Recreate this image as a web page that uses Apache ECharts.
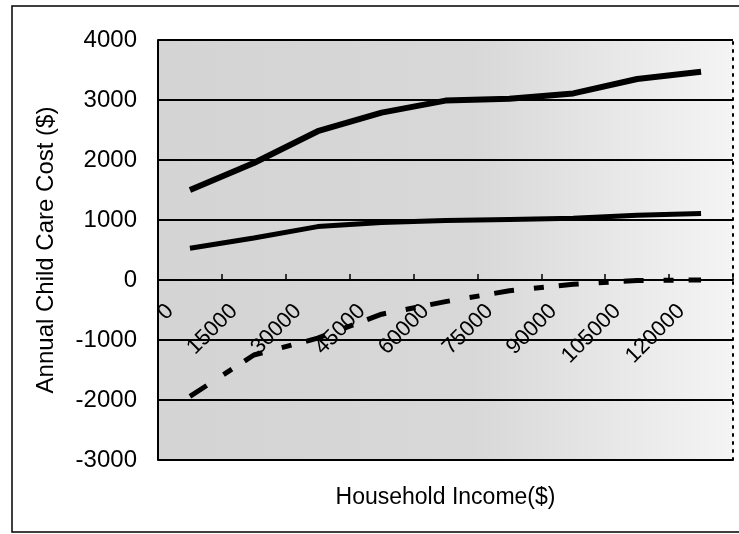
<!DOCTYPE html>
<html>
<head>
<meta charset="utf-8">
<script src="https://cdn.jsdelivr.net/npm/echarts@6/dist/echarts.min.js"></script>
<style>
html,body{margin:0;padding:0;background:#fff;}
#chart{width:739px;height:534px;}
</style>
</head>
<body>
<div id="chart"></div>
<script>
// Household income categories (x axis tick labels)
const categories = ['0','15000','30000','45000','60000','75000','90000','105000','120000'];
// Series values (annual child care cost, $)
const upperCost = [1500, 1950, 2480, 2790, 2990, 3020, 3110, 3350, 3470];
const lowerCost = [530, 700, 890, 960, 990, 1010, 1030, 1080, 1110];
const difference = [-1940, -1250, -970, -570, -360, -180, -70, -10, 0];
// y axis scale
const yMin = -3000, yMax = 4000, yStep = 1000;

const font = 'Liberation Sans, Arial, sans-serif';
const chart = echarts.init(document.getElementById('chart'), null, {renderer: 'canvas'});
chart.setOption({
  animation: false,
  backgroundColor: '#ffffff',
  graphic: [{
    type: 'rect', silent: true, z: -10,
    shape: {x: 12, y: 6, width: 740, height: 526},
    style: {fill: 'none', stroke: '#000', lineWidth: 1.5}
  }],
  grid: {
    left: 158, right: 6, top: 40, bottom: 74,
    containLabel: false,
    outerBoundsMode: 'none',
    show: true, borderWidth: 0,
    backgroundColor: {
      type: 'linear', x: 0, y: 0, x2: 1, y2: 0,
      colorStops: [
        {offset: 0, color: '#d4d4d4'},
        {offset: 0.55, color: '#d8d8d8'},
        {offset: 0.8, color: '#e8e8e8'},
        {offset: 1, color: '#f4f4f4'}
      ]
    }
  },
  xAxis: {
    type: 'category',
    data: categories,
    boundaryGap: true,
    axisLine: {show: true, onZero: true, onZeroAxisIndex: 0, lineStyle: {color: '#000', width: 2}},
    axisTick: {show: true, inside: true, length: 6, lineStyle: {color: '#000', width: 1.5}},
    axisLabel: {rotate: 45, fontSize: 22, fontFamily: font, color: '#000', margin: -172, padding: [0, 28, 0, 0], interval: 0},
    splitLine: {show: false},
    name: 'Household Income($)',
    nameLocation: 'middle',
    nameGap: 26,
    nameTextStyle: {fontSize: 23, fontFamily: font, color: '#000'}
  },
  yAxis: [{
    type: 'value', min: yMin, max: yMax, interval: yStep,
    axisLine: {show: true, lineStyle: {color: '#000', width: 2}},
    axisTick: {show: false},
    axisLabel: {fontSize: 24, fontFamily: font, color: '#000', margin: 21, formatter: v => String(v)},
    splitLine: {show: true, lineStyle: {color: '#000', width: 2}},
    name: 'Annual Child Care Cost ($)',
    nameLocation: 'middle',
    nameGap: 100,
    nameTextStyle: {fontSize: 24, fontFamily: font, color: '#000'}
  }, {
    type: 'value', min: yMin, max: yMax, interval: yStep, position: 'right',
    axisLine: {show: true, lineStyle: {color: '#000', width: 2, type: [2, 6]}},
    axisTick: {show: false}, axisLabel: {show: false}, splitLine: {show: false}
  }],
  series: [{
    name: 'Upper cost', type: 'line', data: upperCost, symbol: 'none',
    lineStyle: {color: '#000', width: 6}
  }, {
    name: 'Lower cost', type: 'line', data: lowerCost, symbol: 'none',
    lineStyle: {color: '#000', width: 5}
  }, {
    name: 'Difference', type: 'line', data: difference, symbol: 'none',
    lineStyle: {color: '#000', width: 5, type: [20, 20, 10, 15]}
  }]
});
</script>
</body>
</html>
